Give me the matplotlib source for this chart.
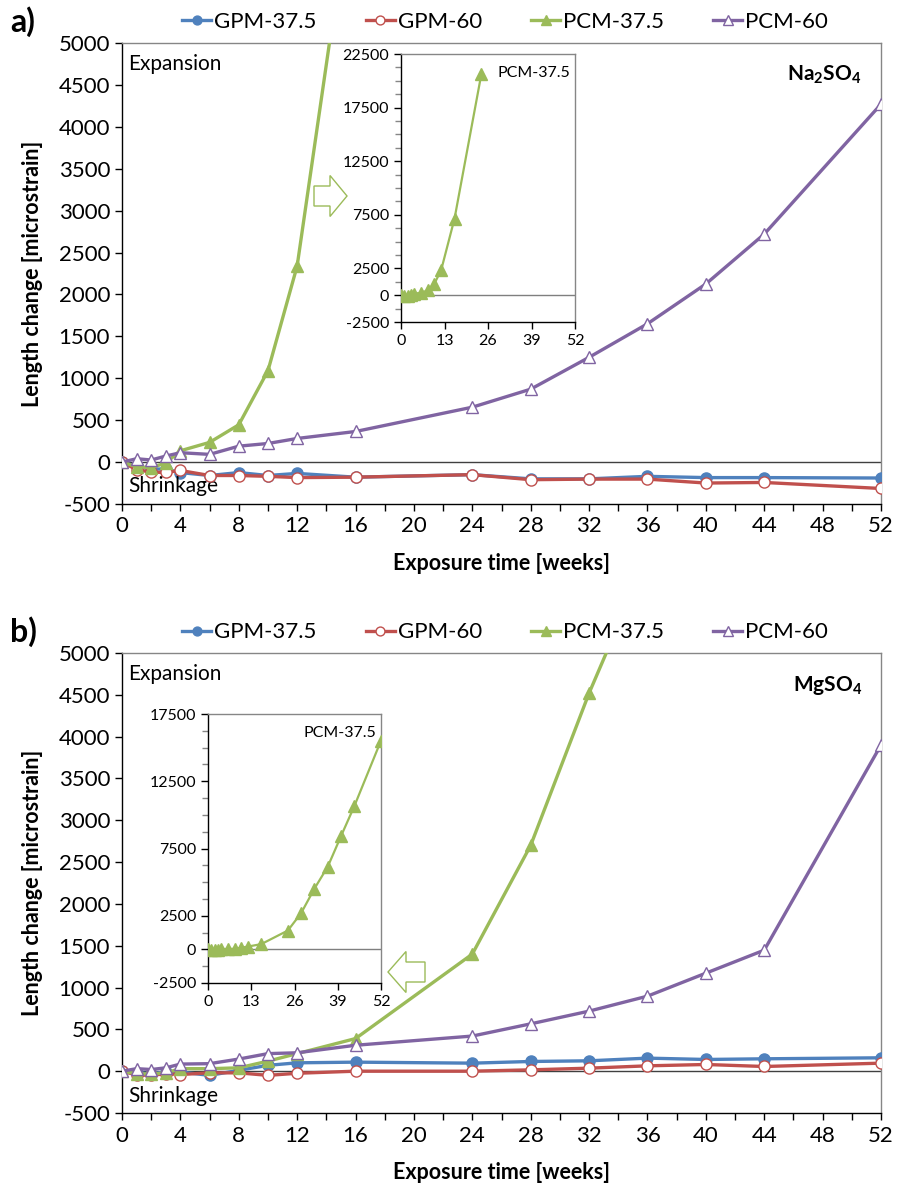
import matplotlib
matplotlib.use('Agg')
import matplotlib.pyplot as plt
from matplotlib.patches import FancyArrow
from matplotlib.ticker import MultipleLocator, FixedLocator

plt.rcParams['font.family'] = ['Lato', 'DejaVu Sans']
plt.rcParams['mathtext.fontset'] = 'custom'
plt.rcParams['mathtext.rm'] = 'Lato'
plt.rcParams['mathtext.bf'] = 'Lato:bold'
plt.rcParams['axes.unicode_minus'] = False

# exposure time [weeks]
weeks = [0, 1, 2, 3, 4, 6, 8, 10, 12, 16, 24, 28, 32, 36, 40, 44, 52]
weeks_pcm375_a = [0, 1, 2, 3, 4, 6, 8, 10, 12, 16, 24]

# a) Na2SO4
gpm375_a = [0, -50, -80, -85, -125, -160, -125, -160, -135, -180, -150, -200, -200, -170, -185, -185, -190]
gpm60_a = [0, -90, -120, -123, -100, -160, -160, -170, -185, -180, -150, -210, -203, -203, -250, -243, -315]
pcm375_a = [0, -55, -68, -10, 135, 235, 445, 1090, 2340, 7150, 20600]
pcm60_a = [0, 40, 25, 72, 112, 92, 190, 222, 282, 365, 655, 870, 1250, 1650, 2125, 2720, 4270]

# b) MgSO4
gpm375_b = [0, -20, -30, -10, -10, -50, 10, 70, 100, 108, 96, 116, 124, 156, 140, 148, 160]
gpm60_b = [0, -45, -50, -30, -40, -20, -20, -50, -25, 0, 0, 16, 36, 64, 80, 56, 96]
pcm375_b = [0, -30, -35, -20, 30, 30, 40, 120, 210, 390, 1400, 2700, 4520, 6150, 8430, 10660, 15520]
pcm60_b = [0, 30, 20, 40, 85, 90, 145, 210, 220, 310, 420, 566, 718, 897, 1172, 1447, 3900]

labels = ['GPM-37.5', 'GPM-60', 'PCM-37.5', 'PCM-60']
blue = '#4F81BD'
red = '#C0504D'
green = '#9BBB59'
purple = '#8064A2'
gray = '#868686'

W, H = 897, 1193
fig = plt.figure(figsize=(W / 100, H / 100), dpi=100)


def frac(x0, y0, x1, y1):
    # pixel box -> figure fraction [left, bottom, width, height]
    return [x0 / W, 1 - y1 / H, (x1 - x0) / W, (y1 - y0) / H]


def style_box(ax):
    ax.spines['left'].set_color('black')
    ax.spines['bottom'].set_color('black')
    ax.spines['top'].set_color(gray)
    ax.spines['right'].set_color(gray)
    for s in ax.spines.values():
        s.set_linewidth(1)


def main_panel(ax, gpm375, gpm60, wk37, pcm375, pcm60):
    ax.plot(weeks, gpm375, color=blue, lw=2.4, marker='o', ms=8,
            mfc=blue, mec=blue, label=labels[0], zorder=3)
    ax.plot(weeks, gpm60, color=red, lw=2.4, marker='o', ms=8,
            mfc='white', mec=red, mew=1, label=labels[1], zorder=4)
    ax.plot(wk37, pcm375, color=green, lw=2.4, marker='^', ms=9,
            mfc=green, mec=green, label=labels[2], zorder=5)
    ax.plot(weeks, pcm60, color=purple, lw=2.4, marker='^', ms=9,
            mfc='white', mec=purple, mew=1, label=labels[3], zorder=6)
    ax.axhline(0, color='#404040', lw=1, zorder=2)
    ax.set_xlim(0, 52)
    ax.set_ylim(-500, 5000)
    ax.xaxis.set_major_locator(MultipleLocator(4))
    ax.xaxis.set_minor_locator(MultipleLocator(2))
    ax.yaxis.set_major_locator(MultipleLocator(500))
    ax.tick_params(axis='both', which='both', direction='out', length=5,
                   width=1, labelsize=16, color='black')
    ax.tick_params(axis='x', pad=4)
    style_box(ax)
    ax.set_xlabel('Exposure time [weeks]', fontsize=15.5, fontweight='bold', labelpad=12)
    ax.set_ylabel('Length change [microstrain]', fontsize=15.5, fontweight='bold', labelpad=11)
    ax.text(0.008, 0.955, 'Expansion', transform=ax.transAxes, fontsize=15,
            ha='left', va='center')
    ax.text(0.008, 0.038, 'Shrinkage', transform=ax.transAxes, fontsize=15,
            ha='left', va='center')
    ax.legend(loc='center', bbox_to_anchor=(0.505, 1.045), ncol=4, frameon=False,
              fontsize=16, handlelength=1.3, handletextpad=0.15, columnspacing=2.2,
              markerscale=0.8, borderaxespad=0)


def inset_panel(ax, wk, vals, ylim, yticks):
    ax.plot(wk, vals, color=green, lw=1.6, marker='^', ms=8,
            mfc=green, mec=green, zorder=3)
    ax.axhline(0, color='#7F7F7F', lw=1, zorder=2)
    ax.set_xlim(0, 52)
    ax.set_ylim(*ylim)
    ax.xaxis.set_major_locator(FixedLocator([0, 13, 26, 39, 52]))
    ax.yaxis.set_major_locator(FixedLocator(yticks))
    ax.yaxis.set_minor_locator(MultipleLocator(1250))
    ax.tick_params(axis='both', which='both', direction='out', length=5,
                   width=1, labelsize=11.5)
    ax.tick_params(axis='y', which='minor', length=4, color=gray)
    style_box(ax)
    ax.set_facecolor('white')
    ax.text(0.97, 0.93, 'PCM-37.5', transform=ax.transAxes, fontsize=11.5,
            ha='right', va='center')


# a) Na2SO4
ax_a = fig.add_axes(frac(122, 43, 881, 504))
main_panel(ax_a, gpm375_a, gpm60_a, weeks_pcm375_a, pcm375_a, pcm60_a)
ax_a.text(0.975, 0.93, r'$\mathbf{Na_2SO_4}$', transform=ax_a.transAxes,
          fontsize=15, ha='right', va='center')

ins_a = fig.add_axes(frac(401, 54, 575, 322))
inset_panel(ins_a, weeks_pcm375_a, pcm375_a, (-2500, 22500),
            [-2500, 0, 2500, 7500, 12500, 17500, 22500])

# b) MgSO4
ax_b = fig.add_axes(frac(122, 653, 881, 1113))
main_panel(ax_b, gpm375_b, gpm60_b, weeks, pcm375_b, pcm60_b)
ax_b.text(0.975, 0.93, r'$\mathbf{MgSO_4}$', transform=ax_b.transAxes,
          fontsize=15, ha='right', va='center')

ins_b = fig.add_axes(frac(208, 714, 381, 983))
inset_panel(ins_b, weeks, pcm375_b, (-2500, 17500),
            [-2500, 0, 2500, 7500, 12500, 17500])

# panel letters
fig.text(10 / W, 1 - 22 / H, 'a)', fontsize=23, fontweight='bold', va='center')
fig.text(10 / W, 1 - 632 / H, 'b)', fontsize=23, fontweight='bold', va='center')

# hollow arrows pointing from the main chart to the insets
arr_a = FancyArrow(314 / W, 1 - 196 / H, 33 / W, 0, width=20 / H,
                   head_width=41 / H, head_length=17 / W,
                   length_includes_head=True, transform=fig.transFigure,
                   fill=False, edgecolor=green, lw=1)
arr_b = FancyArrow(425 / W, 1 - 972 / H, -37 / W, 0, width=20 / H,
                   head_width=41 / H, head_length=18 / W,
                   length_includes_head=True, transform=fig.transFigure,
                   fill=False, edgecolor=green, lw=1)
fig.patches.extend([arr_a, arr_b])

fig.savefig('out.png', dpi=100)
